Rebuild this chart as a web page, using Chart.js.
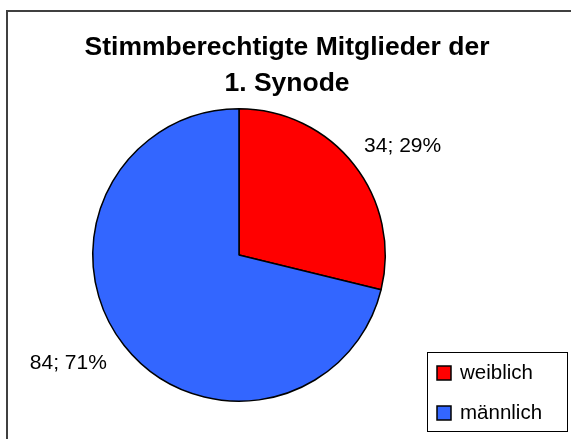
<!DOCTYPE html>
<html lang="de">
<head>
    <meta charset="UTF-8">
    <title>Stimmberechtigte Mitglieder der 1. Synode</title>
    <script src="https://cdn.jsdelivr.net/npm/chart.js"></script>
    <style>
        html, body { margin: 0; padding: 0; background: #fff; }
        canvas { display: block; }
    </style>
</head>
<body>
    <canvas id="synodeChart" width="571" height="439"></canvas>

    <script>
        // Chart data
        const categories = ['weiblich', 'männlich'];
        const members = [34, 84];
        const sliceColors = ['#FF0000', '#3366FF'];
        const titleLines = ['Stimmberechtigte Mitglieder der', '1. Synode'];

        const FONT = '"Liberation Sans", Arial, sans-serif';

        // frame, title, slice labels and legend box in Excel look
        const excelLook = {
            id: 'excelLook',
            beforeDraw(chart) {
                const ctx = chart.ctx;
                ctx.save();
                ctx.fillStyle = '#fff';
                ctx.fillRect(0, 0, chart.width, chart.height);
                ctx.strokeStyle = '#404040';
                ctx.lineWidth = 2;
                ctx.strokeRect(7, 11, chart.width + 10, chart.height + 10);
                ctx.restore();
            },
            afterDraw(chart) {
                const ctx = chart.ctx;
                const ds = chart.data.datasets[0];
                const total = ds.data.reduce((a, b) => a + b, 0);
                ctx.save();

                // title
                ctx.fillStyle = '#000';
                ctx.font = 'bold 26.5px ' + FONT;
                ctx.textAlign = 'center';
                ctx.textBaseline = 'alphabetic';
                titleLines.forEach((line, i) => ctx.fillText(line, 287, 55 + i * 36));

                // value; percent labels outside each slice
                ctx.font = '21px ' + FONT;
                ctx.textBaseline = 'middle';
                chart.getDatasetMeta(0).data.forEach((arc, i) => {
                    const mid = (arc.startAngle + arc.endAngle) / 2 + 0.09;
                    const r = arc.outerRadius + 53;
                    const x = arc.x + Math.cos(mid) * r - 3.5;
                    const y = arc.y + Math.sin(mid) * r;
                    const pct = Math.round(ds.data[i] / total * 100);
                    ctx.fillText(ds.data[i] + '; ' + pct + '%', x, y);
                });

                // legend
                const lx = 427, ly = 352, lw = 140, lh = 79;
                ctx.strokeStyle = '#000';
                ctx.lineWidth = 1;
                ctx.strokeRect(lx + 0.5, ly + 0.5, lw, lh);
                ctx.font = '20.5px ' + FONT;
                ctx.textAlign = 'left';
                chart.data.labels.forEach((lab, i) => {
                    const cy = ly + 21 + i * 40;
                    ctx.fillStyle = ds.backgroundColor[i];
                    ctx.fillRect(437, cy - 7, 14, 14);
                    ctx.lineWidth = 1.5;
                    ctx.strokeRect(437, cy - 7, 14, 14);
                    ctx.fillStyle = '#000';
                    ctx.fillText(lab, 460, cy);
                });
                ctx.restore();
            }
        };

        const synodeChart = new Chart(document.getElementById('synodeChart').getContext('2d'), {
            type: 'pie',
            data: {
                labels: categories,
                datasets: [{
                    data: members,
                    backgroundColor: sliceColors,
                    borderColor: '#000',
                    borderWidth: 1.5
                }]
            },
            options: {
                responsive: false,
                animation: false,
                layout: {
                    padding: { left: 92, right: 185, top: 108, bottom: 37 }
                },
                plugins: {
                    legend: { display: false },
                    title: { display: false },
                    tooltip: { enabled: false }
                }
            },
            plugins: [excelLook]
        });
    </script>
</body>
</html>
